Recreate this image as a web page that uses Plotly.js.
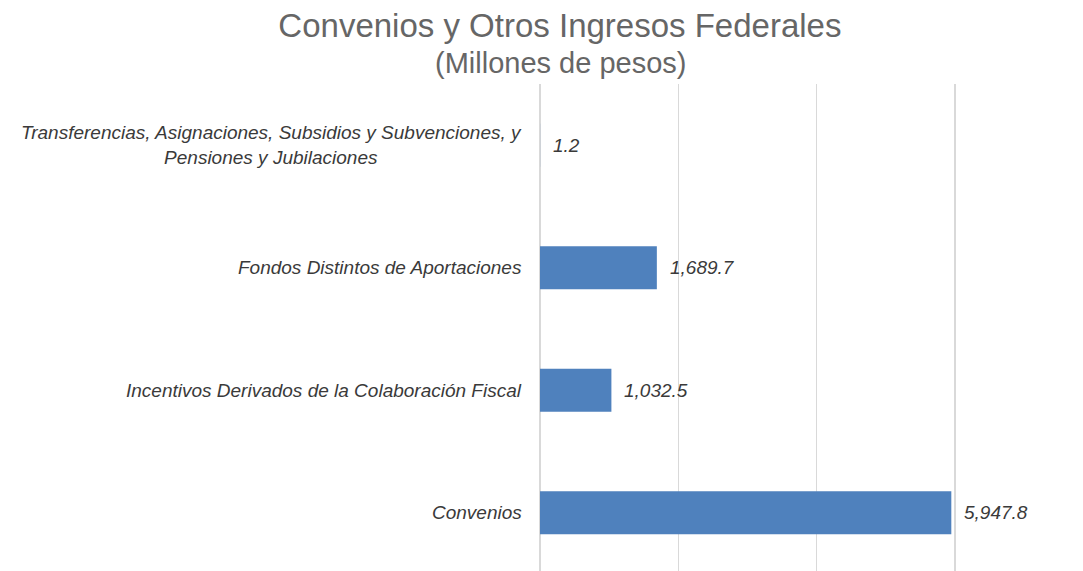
<!DOCTYPE html>
<html>
<head>
<meta charset="utf-8">
<script src="https://cdn.plot.ly/plotly-3.0.1.min.js"></script>
<style>
html, body { margin: 0; padding: 0; background: #ffffff; overflow: hidden; }
#chart { width: 1083px; height: 574px; }
</style>
</head>
<body>
<div id="chart"></div>
<script>
const titleText = 'Convenios y Otros Ingresos Federales';
const subtitleText = '(Millones de pesos)';
const categories = [
  'Convenios',
  'Incentivos Derivados de la Colaboración Fiscal',
  'Fondos Distintos de Aportaciones',
  'Transferencias, Asignaciones, Subsidios y Subvenciones, y<br>Pensiones y Jubilaciones'
];
const values = [5947.8, 1032.5, 1689.7, 1.2];
const gridTicks = [0, 2000, 4000, 6000];

const fmt = v => v.toLocaleString('en-US', {minimumFractionDigits: 1, maximumFractionDigits: 1});

const labelFont = {family: 'Liberation Sans, Arial, sans-serif', size: 19, color: '#3a3a3a', style: 'italic'};

const annotations = [];
categories.forEach((c, i) => {
  annotations.push({
    xref: 'paper', yref: 'y', x: 0, y: c, xanchor: 'right', yanchor: 'middle',
    xshift: -16, align: 'center', showarrow: false, text: c, font: labelFont
  });
  annotations.push({
    xref: 'x', yref: 'y', x: values[i], y: c, xanchor: 'left', yanchor: 'middle',
    xshift: 11, showarrow: false, text: fmt(values[i]), font: labelFont
  });
});
annotations.push({
  xref: 'paper', yref: 'paper', x: 0.048, y: 1.043, xanchor: 'center', yanchor: 'middle',
  showarrow: false, text: subtitleText,
  font: {family: 'Liberation Sans, Arial, sans-serif', size: 29, color: '#666666'}
});

const trace = {
  type: 'bar',
  orientation: 'h',
  y: categories,
  x: values,
  width: 0.35,
  marker: {color: '#4F81BD', line: {width: 0}},
  hoverinfo: 'none'
};

const layout = {
  width: 1083,
  height: 574,
  margin: {l: 540, r: 126, t: 84, b: 0, pad: 0},
  paper_bgcolor: '#ffffff',
  plot_bgcolor: '#ffffff',
  showlegend: false,
  title: {
    text: titleText,
    xref: 'container', yref: 'container',
    x: 0.517, y: 0.955, xanchor: 'center', yanchor: 'middle',
    font: {family: 'Liberation Sans, Arial, sans-serif', size: 33, color: '#666666'}
  },
  xaxis: {
    range: [0, 6030],
    tickvals: gridTicks,
    showticklabels: false,
    showgrid: true,
    gridcolor: '#d9d9d9',
    gridwidth: 1.5,
    zeroline: true,
    zerolinecolor: '#d9d9d9',
    zerolinewidth: 1.5,
    showline: false,
    ticks: ''
  },
  yaxis: {
    type: 'category',
    categoryorder: 'array',
    categoryarray: categories,
    showticklabels: false,
    showgrid: false,
    zeroline: false,
    showline: false,
    ticks: ''
  },
  annotations: annotations
};

Plotly.newPlot('chart', [trace], layout, {staticPlot: true});
</script>
</body>
</html>
